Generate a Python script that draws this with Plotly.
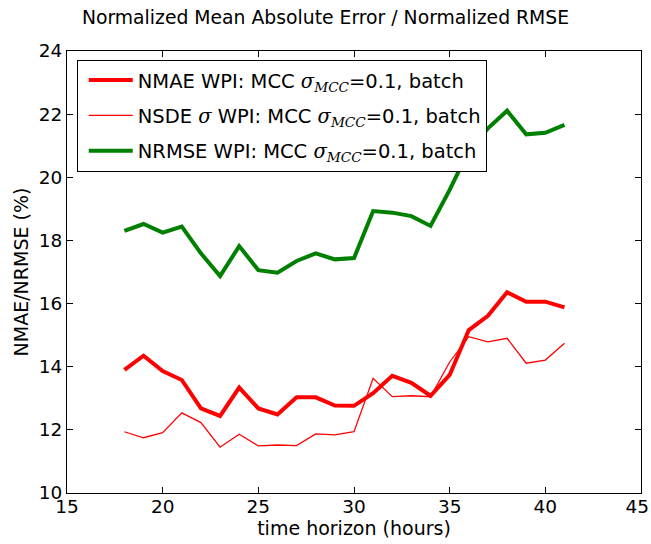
import plotly.graph_objects as go

# forecast horizon (hours)
hours = list(range(18, 42))

# error metrics (%)
nmae = [13.90, 14.35, 13.86, 13.58, 12.68, 12.44, 13.34, 12.68, 12.49, 13.03, 13.03, 12.77,
        12.76, 13.16, 13.71, 13.49, 13.08, 13.74, 15.16, 15.61, 16.36, 16.06, 16.06, 15.88]
nsde = [11.94, 11.75, 11.91, 12.54, 12.23, 11.45, 11.86, 11.49, 11.52, 11.50, 11.87, 11.84,
        11.94, 13.63, 13.05, 13.08, 13.05, 14.15, 14.95, 14.79, 14.90, 14.11, 14.21, 14.74]
nrmse = [18.30, 18.52, 18.25, 18.44, 17.59, 16.87, 17.82, 17.06, 16.98, 17.35, 17.59, 17.40,
         17.44, 18.93, 18.88, 18.77, 18.46, 19.60, 20.85, 21.55, 22.11, 21.36, 21.41, 21.66]

x_ticks = [15, 20, 25, 30, 35, 40, 45]
y_ticks = [10, 12, 14, 16, 18, 20, 22, 24]
# the last x label gets a thin trailing space so it stays inside the page
x_tick_text = [str(v) for v in x_ticks[:-1]] + [f"{x_ticks[-1]}\u2009\u2009"]

serif = "font-family:'DejaVu Serif'"
sigma = f'<span style="{serif}"><i>σ</i><sub><i>MCC</i></sub></span>'
names = [
    f"NMAE WPI: MCC {sigma}=0.1, batch",
    f'NSDE <span style="{serif}"><i>σ</i></span> WPI: MCC {sigma}=0.1, batch',
    f"NRMSE WPI: MCC {sigma}=0.1, batch",
]

fig = go.Figure()
fig.add_trace(go.Scatter(x=hours, y=nmae, mode="lines", name=names[0], legendgroup="a",
                         line=dict(color="#ff0000", width=4)))
fig.add_trace(go.Scatter(x=hours, y=nsde, mode="lines", name=names[1], legendgroup="b",
                         line=dict(color="#ff0000", width=1.3)))
fig.add_trace(go.Scatter(x=hours, y=nrmse, mode="lines", name=names[2], legendgroup="c",
                         line=dict(color="#008000", width=4)))

axis_common = dict(
    showline=True, linecolor="black", linewidth=1.2, mirror="allticks",
    ticks="inside", ticklen=6, tickcolor="black", showgrid=False, zeroline=False,
    ticklabeloverflow="allow",
    tickfont=dict(family="DejaVu Sans", size=18.5, color="black"),
)

fig.update_layout(
    width=651, height=544,
    margin=dict(l=67, r=10, t=51, b=51),
    paper_bgcolor="white", plot_bgcolor="white",
    title=dict(text="Normalized Mean Absolute Error / Normalized RMSE",
               x=0.5, xanchor="center", y=0.968, yanchor="middle",
               font=dict(family="DejaVu Sans", size=18.8, color="black")),
    xaxis=dict(range=[15, 45], tickvals=x_ticks, ticktext=x_tick_text,
               ticklabelstandoff=-3, automargin="height",
               title=dict(text="time horizon (hours)", standoff=0,
                          font=dict(family="DejaVu Sans", size=19, color="black")),
               **axis_common),
    yaxis=dict(range=[10, 24], tickvals=y_ticks, automargin="width",
               title=dict(text="NMAE/NRMSE (%)", standoff=5,
                          font=dict(family="DejaVu Sans", size=19, color="black")),
               **axis_common),
    legend=dict(x=0.017, y=0.98, xanchor="left", yanchor="top",
                bgcolor="white", bordercolor="black", borderwidth=1,
                font=dict(family="DejaVu Sans", size=19.5, color="black"),
                tracegroupgap=7, itemwidth=44, indentation=6),
    showlegend=True,
)

fig.write_html("out.html")
